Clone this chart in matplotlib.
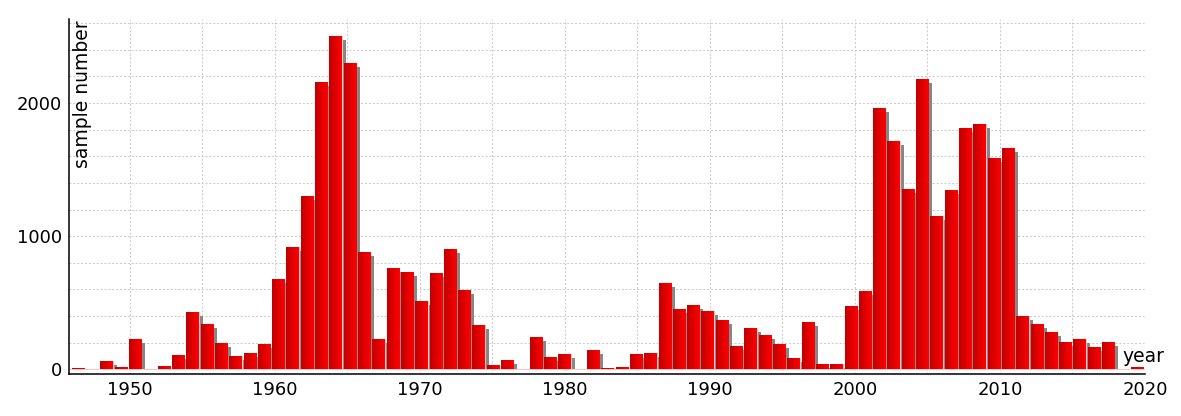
import numpy as np
import matplotlib
matplotlib.use('Agg')
import matplotlib.pyplot as plt
import matplotlib.transforms as mtransforms
from matplotlib.ticker import MultipleLocator

# samples per year, 1946..2020
years = list(range(1946, 2021))
counts = [10, 5, 62, 15, 230, 5, 25, 110, 432, 337,
          195, 97, 120, 190, 675, 915, 1300, 2160, 2500, 2300,
          878, 230, 758, 733, 515, 720, 900, 595, 333, 32,
          70, 5, 245, 95, 112, 0, 142, 8, 15, 112,
          122, 645, 450, 480, 435, 370, 177, 307, 257, 187,
          87, 357, 42, 37, 475, 587, 1965, 1717, 1355, 2182,
          1155, 1350, 1810, 1845, 1590, 1660, 402, 337, 280, 207,
          227, 165, 202, 5, 15]

FS = 13

fig = plt.figure(figsize=(11.81, 4.16), dpi=100)
ax = fig.add_axes([0.0584, 0.101, 0.9111, 0.853])

# histogram-like bins over the year range
lo, hi = years[0], years[-1]
step = (hi - lo) / len(counts)
left = [lo + i * step for i in range(len(counts))]
w = step * 0.86

ax.set_xlim(1945.8, 2020)
ax.set_ylim(-35, 2630)

# drop shadow: shifted 4px right, top 4px lower, stays on the baseline
ppd = ax.transData.transform((0, 1000))[1] - ax.transData.transform((0, 0))[1]
drop = 4 * 1000 / ppd
shadow_h = [max(c - drop, 0) for c in counts]
shift = mtransforms.offset_copy(ax.transData, fig=fig, x=4, y=0, units='dots')
ax.bar(left, shadow_h, width=w, align='edge', color='#868686',
       linewidth=0, zorder=2, transform=shift)

bars = ax.bar(left, counts, width=w, align='edge',
              color='#ee0000', edgecolor='#f6c4c4', linewidth=0.8, zorder=3)

# red gradient inside every bar
grad = np.linspace(0, 1, 64).reshape(1, -1)
cmap = matplotlib.colors.LinearSegmentedColormap.from_list('redg', ['#c00000', '#ff0000'])
for b in bars:
    if b.get_height() <= 0:
        continue
    x0, bw, h = b.get_x(), b.get_width(), b.get_height()
    im = ax.imshow(grad, cmap=cmap, aspect='auto', extent=(x0, x0 + bw, 0, h), zorder=3.5)
    im.set_clip_path(b)

ax.set_xlim(1945.8, 2020)
ax.set_ylim(-35, 2630)

ax.xaxis.set_major_locator(MultipleLocator(10))
ax.xaxis.set_minor_locator(MultipleLocator(5))
ax.yaxis.set_major_locator(MultipleLocator(1000))
ax.yaxis.set_minor_locator(MultipleLocator(200))
ax.grid(True, which='both', color='#c8c8c8', linestyle=(0, (2, 2)), linewidth=0.7, zorder=0)
ax.tick_params(which='both', length=0, labelsize=FS, pad=5)

for s in ['top', 'right']:
    ax.spines[s].set_visible(False)
for s in ['left', 'bottom']:
    ax.spines[s].set_linewidth(1.1)

ax.text(0.004, 0.997, 'sample number', rotation=90, transform=ax.transAxes,
        ha='left', va='top', fontsize=13.5)
ax.text(0.979, 0.034, 'year', transform=ax.transAxes,
        ha='left', va='baseline', fontsize=13.5, zorder=5)

fig.savefig('out.png', dpi=100)
